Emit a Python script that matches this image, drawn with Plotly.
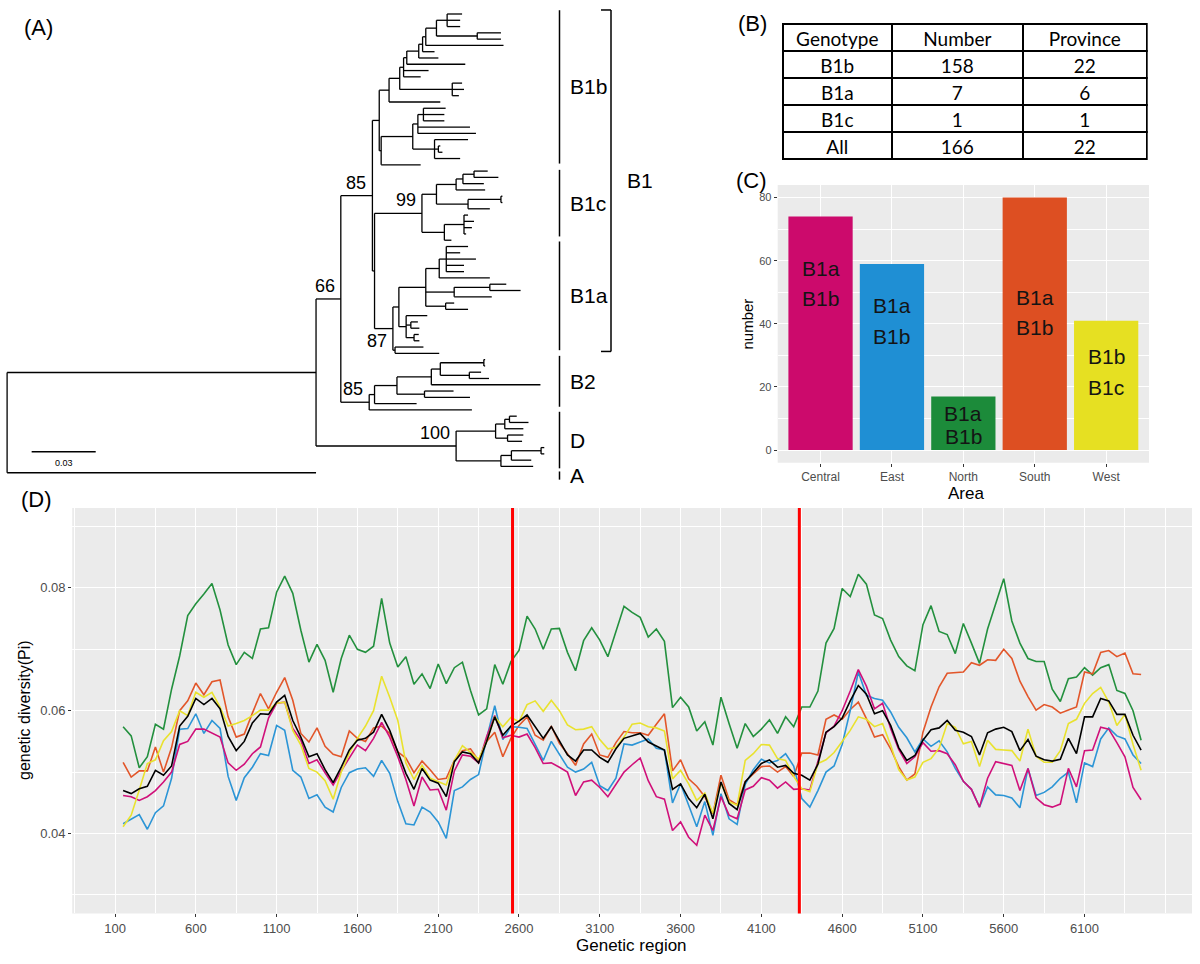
import plotly.graph_objects as go

# ------------------------------------------------------------------
# Panel D data: nucleotide diversity (Pi) in sliding windows
# ------------------------------------------------------------------
window_pos = list(range(150, 6451, 50))

pi_north = [
    0.0574, 0.0559, 0.0507, 0.0525, 0.0578, 0.0570, 0.0635, 0.0689,
    0.0755, 0.0774, 0.0790, 0.0807, 0.0764, 0.0707, 0.0675, 0.0695,
    0.0685, 0.0733, 0.0735, 0.0793, 0.0819, 0.0791, 0.0731, 0.0679,
    0.0708, 0.0682, 0.0630, 0.0685, 0.0723, 0.0700, 0.0695, 0.0705,
    0.0783, 0.0710, 0.0671, 0.0688, 0.0643, 0.0660, 0.0636, 0.0676,
    0.0644, 0.0670, 0.0679, 0.0633, 0.0593, 0.0603, 0.0675, 0.0643,
    0.0680, 0.0698, 0.0754, 0.0733, 0.0700, 0.0733, 0.0734, 0.0695,
    0.0665, 0.0714, 0.0735, 0.0715, 0.0688, 0.0730, 0.0770, 0.0760,
    0.0752, 0.0720, 0.0733, 0.0713, 0.0605, 0.0622, 0.0606, 0.0567,
    0.0582, 0.0544, 0.0622, 0.0579, 0.0539, 0.0579, 0.0558, 0.0570,
    0.0585, 0.0563, 0.0590, 0.0574, 0.0606, 0.0606, 0.0632, 0.0710,
    0.0734, 0.0799, 0.0786, 0.0822, 0.0806, 0.0756, 0.0750, 0.0715,
    0.0688, 0.0673, 0.0665, 0.0740, 0.0771, 0.0729, 0.0724, 0.0693,
    0.0742, 0.0710, 0.0677, 0.0733, 0.0776, 0.0815, 0.0746, 0.0710,
    0.0685, 0.0680, 0.0680, 0.0635, 0.0615, 0.0652, 0.0655, 0.0670,
    0.0658, 0.0670, 0.0675, 0.0633, 0.0628, 0.0600, 0.0552]

pi_south = [
    0.0516, 0.0492, 0.0502, 0.0502, 0.0541, 0.0500, 0.0540, 0.0600,
    0.0616, 0.0645, 0.0626, 0.0647, 0.0650, 0.0590, 0.0557, 0.0562,
    0.0596, 0.0628, 0.0603, 0.0630, 0.0654, 0.0617, 0.0563, 0.0549,
    0.0572, 0.0542, 0.0529, 0.0525, 0.0567, 0.0555, 0.0550, 0.0572,
    0.0575, 0.0563, 0.0533, 0.0523, 0.0499, 0.0518, 0.0504, 0.0488,
    0.0490, 0.0519, 0.0535, 0.0538, 0.0519, 0.0550, 0.0565, 0.0525,
    0.0555, 0.0576, 0.0590, 0.0560, 0.0552, 0.0575, 0.0547, 0.0530,
    0.0511, 0.0546, 0.0562, 0.0528, 0.0524, 0.0548, 0.0566, 0.0564,
    0.0564, 0.0560, 0.0578, 0.0595, 0.0502, 0.0520, 0.0489, 0.0477,
    0.0460, 0.0432, 0.0495, 0.0455, 0.0447, 0.0485, 0.0497, 0.0509,
    0.0510, 0.0500, 0.0509, 0.0493, 0.0531, 0.0531, 0.0528, 0.0586,
    0.0593, 0.0586, 0.0602, 0.0614, 0.0587, 0.0557, 0.0561, 0.0538,
    0.0509, 0.0487, 0.0497, 0.0565, 0.0606, 0.0639, 0.0661, 0.0662,
    0.0663, 0.0678, 0.0674, 0.0683, 0.0682, 0.0700, 0.0685, 0.0648,
    0.0623, 0.0601, 0.0610, 0.0606, 0.0596, 0.0601, 0.0606, 0.0663,
    0.0660, 0.0695, 0.0698, 0.0688, 0.0694, 0.0660, 0.0659]

pi_all = [
    0.0470, 0.0465, 0.0473, 0.0477, 0.0503, 0.0495, 0.0510, 0.0575,
    0.0591, 0.0620, 0.0610, 0.0620, 0.0603, 0.0558, 0.0535, 0.0550,
    0.0580, 0.0595, 0.0594, 0.0614, 0.0625, 0.0584, 0.0557, 0.0525,
    0.0530, 0.0504, 0.0483, 0.0508, 0.0536, 0.0552, 0.0555, 0.0565,
    0.0594, 0.0568, 0.0533, 0.0498, 0.0472, 0.0506, 0.0487, 0.0482,
    0.0460, 0.0517, 0.0533, 0.0530, 0.0515, 0.0550, 0.0590, 0.0560,
    0.0575, 0.0583, 0.0593, 0.0574, 0.0555, 0.0574, 0.0550, 0.0528,
    0.0518, 0.0536, 0.0536, 0.0524, 0.0516, 0.0538, 0.0555, 0.0559,
    0.0563, 0.0549, 0.0542, 0.0536, 0.0472, 0.0481, 0.0457, 0.0442,
    0.0464, 0.0424, 0.0484, 0.0449, 0.0439, 0.0484, 0.0499, 0.0514,
    0.0520, 0.0508, 0.0511, 0.0498, 0.0495, 0.0487, 0.0513, 0.0565,
    0.0574, 0.0588, 0.0616, 0.0641, 0.0627, 0.0595, 0.0600, 0.0576,
    0.0540, 0.0519, 0.0527, 0.0552, 0.0569, 0.0572, 0.0584, 0.0568,
    0.0565, 0.0558, 0.0528, 0.0564, 0.0570, 0.0573, 0.0566, 0.0535,
    0.0553, 0.0526, 0.0520, 0.0518, 0.0521, 0.0555, 0.0530, 0.0590,
    0.0590, 0.0620, 0.0616, 0.0594, 0.0594, 0.0560, 0.0536]

pi_west = [
    0.0411, 0.0430, 0.0471, 0.0514, 0.0520, 0.0551, 0.0566, 0.0600,
    0.0592, 0.0630, 0.0622, 0.0630, 0.0606, 0.0575, 0.0579, 0.0584,
    0.0592, 0.0601, 0.0601, 0.0612, 0.0614, 0.0568, 0.0544, 0.0506,
    0.0500, 0.0486, 0.0456, 0.0500, 0.0531, 0.0555, 0.0575, 0.0600,
    0.0656, 0.0622, 0.0584, 0.0515, 0.0488, 0.0511, 0.0490, 0.0484,
    0.0479, 0.0519, 0.0543, 0.0532, 0.0521, 0.0550, 0.0590, 0.0574,
    0.0589, 0.0582, 0.0610, 0.0616, 0.0599, 0.0617, 0.0600, 0.0577,
    0.0569, 0.0570, 0.0574, 0.0553, 0.0538, 0.0540, 0.0557, 0.0578,
    0.0580, 0.0574, 0.0572, 0.0567, 0.0489, 0.0503, 0.0481, 0.0454,
    0.0466, 0.0433, 0.0482, 0.0452, 0.0446, 0.0519, 0.0530, 0.0545,
    0.0544, 0.0522, 0.0519, 0.0493, 0.0473, 0.0468, 0.0514, 0.0520,
    0.0532, 0.0550, 0.0568, 0.0590, 0.0586, 0.0574, 0.0579, 0.0544,
    0.0504, 0.0487, 0.0492, 0.0516, 0.0522, 0.0539, 0.0579, 0.0573,
    0.0546, 0.0550, 0.0509, 0.0552, 0.0537, 0.0536, 0.0535, 0.0518,
    0.0570, 0.0526, 0.0516, 0.0516, 0.0535, 0.0579, 0.0586, 0.0612,
    0.0628, 0.0638, 0.0614, 0.0576, 0.0594, 0.0545, 0.0503]

pi_central = [
    0.0462, 0.0460, 0.0454, 0.0460, 0.0470, 0.0484, 0.0500, 0.0545,
    0.0550, 0.0570, 0.0570, 0.0563, 0.0557, 0.0515, 0.0503, 0.0513,
    0.0530, 0.0541, 0.0588, 0.0612, 0.0614, 0.0571, 0.0552, 0.0514,
    0.0520, 0.0499, 0.0479, 0.0502, 0.0524, 0.0544, 0.0535, 0.0555,
    0.0581, 0.0557, 0.0525, 0.0488, 0.0445, 0.0492, 0.0471, 0.0472,
    0.0438, 0.0502, 0.0528, 0.0526, 0.0515, 0.0558, 0.0592, 0.0556,
    0.0560, 0.0557, 0.0562, 0.0540, 0.0514, 0.0515, 0.0508, 0.0500,
    0.0462, 0.0484, 0.0487, 0.0475, 0.0460, 0.0480, 0.0500, 0.0512,
    0.0523, 0.0486, 0.0460, 0.0456, 0.0405, 0.0419, 0.0394, 0.0381,
    0.0430, 0.0405, 0.0460, 0.0430, 0.0424, 0.0471, 0.0477, 0.0491,
    0.0487, 0.0474, 0.0484, 0.0472, 0.0473, 0.0471, 0.0518, 0.0564,
    0.0575, 0.0600, 0.0632, 0.0667, 0.0640, 0.0603, 0.0612, 0.0571,
    0.0537, 0.0514, 0.0525, 0.0548, 0.0534, 0.0535, 0.0530, 0.0512,
    0.0485, 0.0472, 0.0443, 0.0490, 0.0517, 0.0514, 0.0511, 0.0470,
    0.0506, 0.0458, 0.0447, 0.0443, 0.0448, 0.0506, 0.0476, 0.0535,
    0.0536, 0.0573, 0.0570, 0.0548, 0.0525, 0.0475, 0.0455]

pi_east = [
    0.0416, 0.0424, 0.0431, 0.0407, 0.0434, 0.0445, 0.0490, 0.0570,
    0.0571, 0.0595, 0.0563, 0.0584, 0.0571, 0.0493, 0.0454, 0.0491,
    0.0508, 0.0530, 0.0527, 0.0576, 0.0568, 0.0503, 0.0492, 0.0457,
    0.0463, 0.0443, 0.0435, 0.0475, 0.0499, 0.0505, 0.0507, 0.0493,
    0.0519, 0.0498, 0.0452, 0.0416, 0.0414, 0.0443, 0.0435, 0.0419,
    0.0392, 0.0470, 0.0476, 0.0488, 0.0496, 0.0555, 0.0608, 0.0553,
    0.0574, 0.0573, 0.0571, 0.0545, 0.0519, 0.0550, 0.0530, 0.0508,
    0.0500, 0.0505, 0.0516, 0.0478, 0.0470, 0.0490, 0.0546, 0.0544,
    0.0549, 0.0554, 0.0539, 0.0536, 0.0450, 0.0481, 0.0446, 0.0411,
    0.0452, 0.0397, 0.0465, 0.0424, 0.0415, 0.0480, 0.0504, 0.0521,
    0.0515, 0.0519, 0.0530, 0.0510, 0.0457, 0.0443, 0.0470, 0.0500,
    0.0510, 0.0545, 0.0600, 0.0663, 0.0625, 0.0620, 0.0617, 0.0598,
    0.0573, 0.0556, 0.0533, 0.0554, 0.0542, 0.0551, 0.0533, 0.0506,
    0.0485, 0.0472, 0.0443, 0.0476, 0.0463, 0.0462, 0.0458, 0.0442,
    0.0506, 0.0462, 0.0467, 0.0476, 0.0490, 0.0500, 0.0450, 0.0515,
    0.0509, 0.0554, 0.0572, 0.0559, 0.0554, 0.0528, 0.0514]

region_bounds = [2560, 4335]
d_x_ticks = [100, 600, 1100, 1600, 2100, 2600, 3100, 3600, 4100, 4600, 5100, 5600, 6100]
d_y_ticks = [0.04, 0.06, 0.08]
d_y_ticklabels = ["0.04", "0.06", "0.08"]

# ------------------------------------------------------------------
# Panel C data
# ------------------------------------------------------------------
areas = ["Central", "East", "North", "South", "West"]
area_counts = [74, 59, 17, 80, 41]
area_genotypes = [["B1a", "B1b"], ["B1a", "B1b"], ["B1a", "B1b"], ["B1a", "B1b"], ["B1b", "B1c"]]
c_y_ticks = [0, 20, 40, 60, 80]

# ------------------------------------------------------------------
# Panel B data
# ------------------------------------------------------------------
table_header = ["Genotype", "Number", "Province"]
table_genotype = ["B1b", "B1a", "B1c", "All"]
table_number = ["158", "7", "1", "166"]
table_province = ["22", "6", "1", "22"]

# ------------------------------------------------------------------
# Panel A data: phylogeny (node depth in substitutions/site)
# ------------------------------------------------------------------
def clade(depth, *children, support=None):
    return (depth, children, support)

tree = clade(0.0,
    clade(0.1447,
        clade(0.1563,
            clade(0.1711,
                clade(0.1743,
                    clade(0.1789,
                        clade(0.1839,
                            clade(0.1857,
                                clade(0.1872,
                                    clade(0.1928,
                                        clade(0.1946,
                                            clade(0.1961,
                                                clade(0.2011,
                                                    clade(0.2061, 0.2131, 0.2122, 0.2122),
                                                    clade(0.2202, 0.2313, 0.2313)),
                                                0.2325),
                                            0.2002),
                                        0.2020),
                                    0.2146),
                                0.1974, 0.1937),
                            clade(0.2085, 0.2131, 0.2140, 0.2116)),
                        0.2029),
                    clade(0.1752,
                        clade(0.1900,
                            clade(0.1924, clade(0.1950, 0.2054, 0.2048, 0.2048), 0.2168, 0.2196),
                            clade(0.2002, 0.2159, clade(0.2020, 0.2029, 0.2039), 0.2122)),
                        0.1937)),
                clade(0.1721,
                    clade(0.1943,
                        clade(0.2011,
                            clade(0.2103, clade(0.2135, clade(0.2187, 0.2251, 0.2301), 0.2233), 0.2239),
                            clade(0.2159, clade(0.2313, 0.2320, 0.2320), 0.2261)),
                        clade(0.2048, clade(0.2140, 0.2159, 0.2187, 0.2177, 0.2150), 0.2081),
                        support="99"),
                    clade(0.1807,
                        clade(0.1835,
                            clade(0.1961,
                                clade(0.2024, clade(0.2057, 0.2159, 0.2122, 0.2196, 0.2140, 0.2140), 0.2261),
                                clade(0.2094, clade(0.2261, 0.2338, 0.2405), 0.2270),
                                clade(0.2054, 0.2094, 0.2159)),
                            clade(0.1869, 0.1968, clade(0.1891, 0.1924, 0.1931), clade(0.1906, 0.1928, 0.1931))),
                        clade(0.1817, 0.1950, 0.2024),
                        support="87")),
                support="85"),
            clade(0.1696,
                clade(0.1721,
                    clade(0.1826,
                        clade(0.1987,
                            clade(0.2029, clade(0.2233, 0.2239, 0.2239), clade(0.2165, 0.2220, 0.2257)),
                            0.2498),
                        clade(0.1955, 0.2091, 0.2168)),
                    0.1918),
                0.2177,
                support="85"),
            support="66"),
        clade(0.2103,
            clade(0.2288, clade(0.2331, clade(0.2353, 0.2387, 0.2442), 0.2418), clade(0.2344, 0.2418, 0.2412)),
            clade(0.2313, clade(0.2362, clade(0.2501, 0.2516, 0.2516), 0.2455), 0.2464),
            support="100")),
    0.1447)

# clade brackets: label, span in leaf-row units
clade_brackets = [("B1b", -0.6, 23.8), ("B1c", 24.8, 35.4), ("B1a", 36.2, 53.5),
                  ("B2", 54.4, 62.5), ("D", 63.3, 72.3), ("A", 72.8, 74.1)]
b1_bracket = ("B1", -0.64, 53.7)
scale_bar_len = 0.03
supports_below = {"87"}

# ------------------------------------------------------------------
# Tree layout
# ------------------------------------------------------------------
seg_x, seg_y, support_pts = [], [], []
leaf_counter = [0]

def draw(node, parent_depth):
    if not isinstance(node, tuple):
        y = leaf_counter[0]
        leaf_counter[0] += 1
        seg_x.extend([parent_depth, node, None])
        seg_y.extend([y, y, None])
        return y
    depth, children, support = node
    ys = [draw(c, depth) for c in children]
    y = (ys[0] + ys[-1]) / 2.0
    seg_x.extend([depth, depth, None])
    seg_y.extend([ys[0], ys[-1], None])
    if parent_depth is not None:
        seg_x.extend([parent_depth, depth, None])
        seg_y.extend([y, y, None])
    if support:
        support_pts.append((depth, y, support))
    return y

draw(tree, None)

W, H = 1200, 964
def px(x): return x / W
def py(y): return 1 - y / H

FONT = "Liberation Sans, Arial, sans-serif"
GRID_BG = "#EBEBEB"
TICK_GRAY = "#4D4D4D"

series = [
    ("North", pi_north, "#23903E"),
    ("South", pi_south, "#E2562A"),
    ("East", pi_east, "#2C95D6"),
    ("Central", pi_central, "#D0107A"),
    ("West", pi_west, "#E9E22E"),
    ("All", pi_all, "#000000"),
]
bar_colors = ["#CC0A6C", "#1F8FD4", "#1C8B3A", "#DD4F22", "#E6E022"]

fig = go.Figure()

# ---- Panel A: tree
fig.add_trace(go.Scatter(x=seg_x, y=seg_y, mode="lines", line=dict(color="black", width=1.3),
                         xaxis="x3", yaxis="y3", hoverinfo="skip", showlegend=False))
sb_x0 = 0.0115
fig.add_trace(go.Scatter(x=[sb_x0, sb_x0 + scale_bar_len], y=[69.65, 69.65], mode="lines",
                         line=dict(color="black", width=1.5), xaxis="x3", yaxis="y3",
                         hoverinfo="skip", showlegend=False))

# ---- Panel B: table
TABLE_FONT = dict(family="Lato, Carlito, sans-serif", size=19, color="black")
fig.add_trace(go.Table(
    domain=dict(x=[px(782.7), px(1147.3)], y=[py(162), py(24)]),
    columnwidth=[109.3, 131.3, 124],
    header=dict(values=table_header, height=27, align="center",
                line=dict(color="black", width=2), fill_color="white", font=TABLE_FONT),
    cells=dict(values=[table_genotype, table_number, table_province], height=27, align="center",
               line=dict(color="black", width=2), fill_color="white", font=TABLE_FONT),
))

# ---- Panel C: bars
fig.add_trace(go.Bar(x=areas, y=area_counts, marker=dict(color=bar_colors, line=dict(width=0)),
                     width=0.9, xaxis="x2", yaxis="y2", showlegend=False, hoverinfo="x+y"))

# ---- Panel D: lines
for name, vals, col in series:
    fig.add_trace(go.Scatter(x=window_pos, y=vals, mode="lines", name=name,
                             line=dict(color=col, width=1.6), xaxis="x", yaxis="y",
                             showlegend=False))

shapes = []
shapes.append(dict(type="rect", xref="x domain", yref="y domain", x0=0, x1=1, y0=0, y1=1,
                   fillcolor=GRID_BG, line=dict(width=0), layer="below"))
shapes.append(dict(type="rect", xref="x2 domain", yref="y2 domain", x0=0, x1=1, y0=0, y1=1,
                   fillcolor=GRID_BG, line=dict(width=0), layer="below"))
for b in region_bounds:
    shapes.append(dict(type="line", xref="x", yref="y domain", x0=b, x1=b, y0=0, y1=1,
                       line=dict(color="#FF0000", width=3), layer="above"))
for lab, y0, y1 in clade_brackets:
    shapes.append(dict(type="line", xref="paper", yref="y3", x0=px(559.5), x1=px(559.5),
                       y0=y0, y1=y1, line=dict(color="black", width=1.5)))
lab, y0, y1 = b1_bracket
shapes.append(dict(type="line", xref="paper", yref="y3", x0=px(611), x1=px(611), y0=y0, y1=y1,
                   line=dict(color="black", width=1.5)))
for yy in (y0, y1):
    shapes.append(dict(type="line", xref="paper", yref="y3", x0=px(601), x1=px(611), y0=yy, y1=yy,
                       line=dict(color="black", width=1.5)))

annotations = []
for txt, x, y in [("(A)", 38.5, 27), ("(B)", 752, 23), ("(C)", 751, 180), ("(D)", 36, 499)]:
    annotations.append(dict(text=txt, x=px(x), y=py(y), xref="paper", yref="paper",
                            xanchor="center", yanchor="middle", showarrow=False,
                            font=dict(size=22, color="black")))
for d, y, s in support_pts:
    annotations.append(dict(text=s, x=d, y=y, xref="x3", yref="y3", xanchor="right",
                            yanchor="middle", xshift=-4, yshift=(-12 if s in supports_below else 13),
                            showarrow=False, font=dict(size=18, color="black")))
for lab, y0, y1 in clade_brackets:
    annotations.append(dict(text=lab, x=px(568), y=(y0 + y1) / 2, xref="paper", yref="y3",
                            xanchor="left", yanchor="middle", showarrow=False,
                            font=dict(size=21, color="black")))
annotations.append(dict(text=b1_bracket[0], x=px(625), y=(b1_bracket[1] + b1_bracket[2]) / 2,
                        xref="paper", yref="y3", xanchor="left", yanchor="middle",
                        showarrow=False, font=dict(size=21, color="black")))
annotations.append(dict(text="0.03", x=sb_x0 + scale_bar_len / 2, y=71.4, xref="x3", yref="y3",
                        xanchor="center", yanchor="middle", showarrow=False,
                        font=dict(size=9, color="black")))
label_line_y = [[57.6, 48.0], [45.7, 35.9], [11.7, 4.3], [48.3, 38.8], [29.5, 19.9]]
for a, gts, ys in zip(areas, area_genotypes, label_line_y):
    for g, yv in zip(gts, ys):
        annotations.append(dict(text=g, x=a, y=yv, xref="x2", yref="y2", xanchor="center",
                                yanchor="middle", showarrow=False,
                                font=dict(size=21, color="#141414")))
annotations += [
    dict(text="number", x=px(746.5), y=py(324), xref="paper", yref="paper", textangle=-90,
         showarrow=False, font=dict(size=15, color="black"), xanchor="center", yanchor="middle"),
    dict(text="Area", x=px(966), y=py(494), xref="paper", yref="paper", showarrow=False,
         font=dict(size=17, color="black"), xanchor="center", yanchor="middle"),
    dict(text="genetic diversity(Pi)", x=px(24), y=py(710), xref="paper", yref="paper",
         textangle=-90, showarrow=False, font=dict(size=16, color="black"),
         xanchor="center", yanchor="middle"),
    dict(text="Genetic region", x=px(632), y=py(945), xref="paper", yref="paper",
         showarrow=False, font=dict(size=17, color="black"), xanchor="center", yanchor="middle"),
]

common_tick = dict(ticks="outside", ticklen=3, tickwidth=1, tickcolor="#333333",
                   showline=False, zeroline=False, gridcolor="white", gridwidth=1.3)

fig.update_layout(
    width=W, height=H, margin=dict(l=0, r=0, t=0, b=0),
    paper_bgcolor="white", plot_bgcolor="white",
    font=dict(family=FONT, color="black"),
    showlegend=False,
    shapes=shapes, annotations=annotations,
    xaxis=dict(domain=[px(72.2), px(1192)], range=[-165, 6765], anchor="y",
               tickmode="array", tickvals=d_x_ticks, ticktext=[str(v) for v in d_x_ticks],
               tickfont=dict(size=13, color=TICK_GRAY), showgrid=True,
               minor=dict(tickmode="linear", tick0=100, dtick=250, showgrid=True,
                          gridcolor="white", gridwidth=0.7, ticks=""),
               **common_tick),
    yaxis=dict(domain=[py(913.4), py(508)], range=[0.027, 0.093], anchor="x",
               tickmode="array", tickvals=d_y_ticks, ticktext=d_y_ticklabels,
               tickfont=dict(size=13, color=TICK_GRAY), showgrid=True,
               minor=dict(tickmode="array", tickvals=[0.03, 0.05, 0.07, 0.09], showgrid=True,
                          gridcolor="white", gridwidth=0.7, ticks=""),
               **common_tick),
    xaxis2=dict(domain=[px(777.7), px(1149)], type="category", categoryorder="array",
                categoryarray=areas, range=[-0.6, 4.6], anchor="y2",
                tickfont=dict(size=12, color=TICK_GRAY), showgrid=True, **common_tick),
    yaxis2=dict(domain=[py(462.7), py(185)], range=[-4, 84], anchor="x2",
                tickmode="array", tickvals=c_y_ticks, tickfont=dict(size=11, color=TICK_GRAY),
                showgrid=True,
                minor=dict(tickmode="array", tickvals=[10, 30, 50, 70], showgrid=True,
                           gridcolor="white", gridwidth=0.7, ticks=""),
                **common_tick),
    xaxis3=dict(domain=[0, 0.5], range=[-0.003326, 0.27770], visible=False, anchor="y3"),
    yaxis3=dict(domain=[0.5, 1], range=[74.475, -2.228], visible=False, anchor="x3"),
)

fig.write_html("out.html", config={"displayModeBar": False},
               post_script="document.body.style.margin='0px';document.body.style.padding='0px';")
